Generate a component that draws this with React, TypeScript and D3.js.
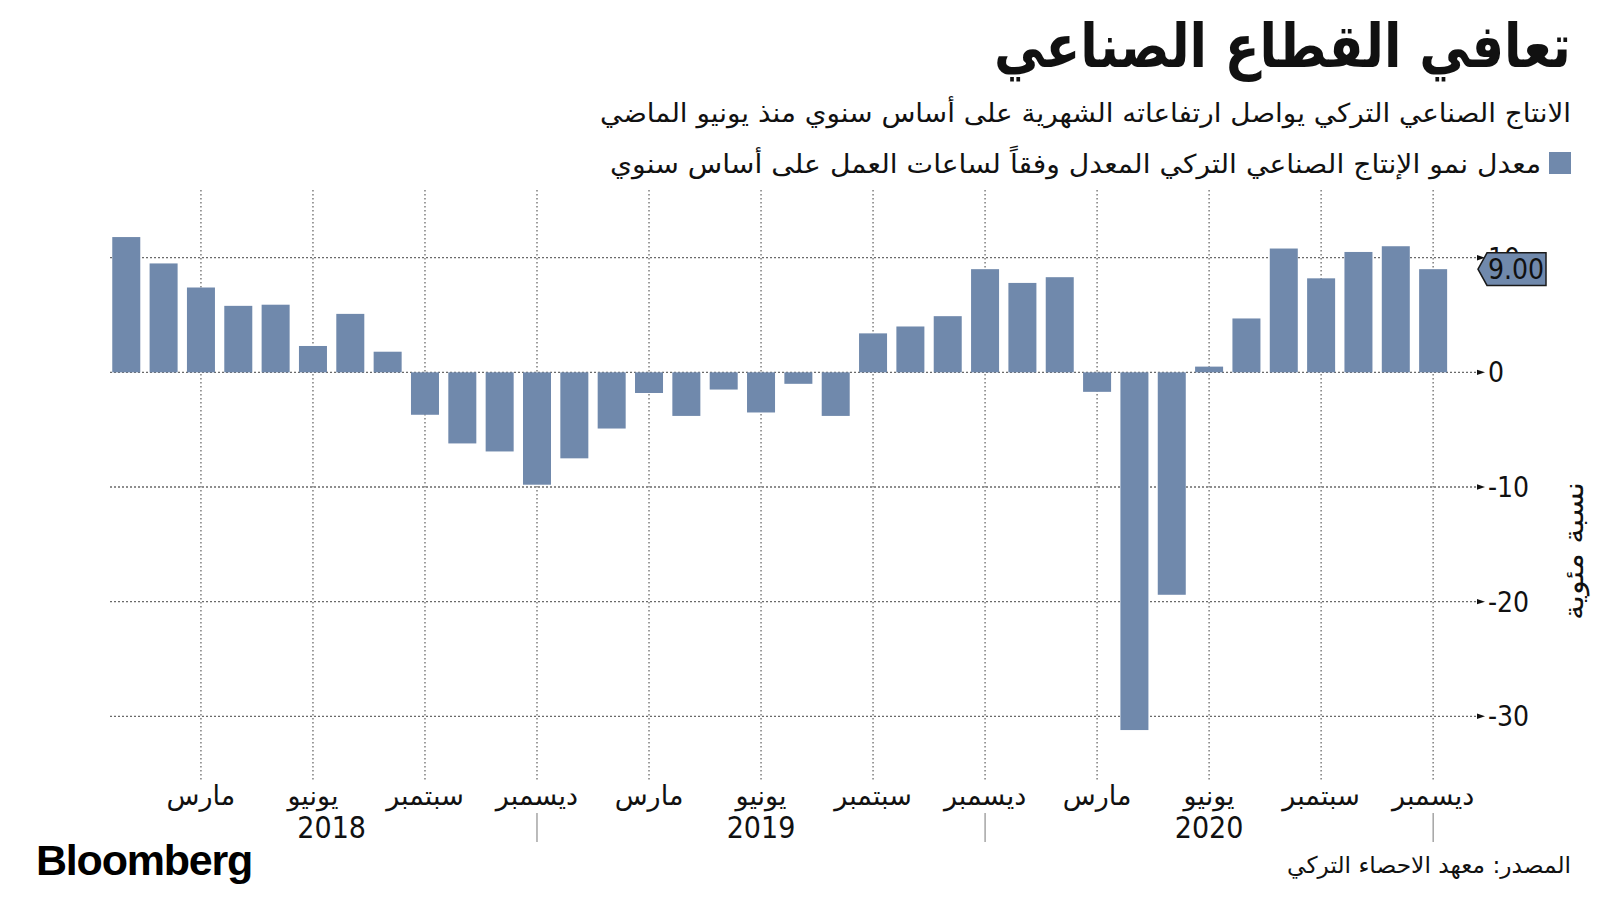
import React from "react";
import * as d3 from "d3";

// ---------- data ----------
const periods = [
  "2018-01","2018-02","2018-03","2018-04","2018-05","2018-06","2018-07","2018-08","2018-09","2018-10","2018-11","2018-12",
  "2019-01","2019-02","2019-03","2019-04","2019-05","2019-06","2019-07","2019-08","2019-09","2019-10","2019-11","2019-12",
  "2020-01","2020-02","2020-03","2020-04","2020-05","2020-06","2020-07","2020-08","2020-09","2020-10","2020-11","2020-12",
];
const growth = [
  11.8, 9.5, 7.4, 5.8, 5.9, 2.3, 5.1, 1.8, -3.7, -6.2, -6.9, -9.8,
  -7.5, -4.9, -1.8, -3.8, -1.5, -3.5, -1.0, -3.8, 3.4, 4.0, 4.9, 9.0,
  7.8, 8.3, -1.7, -31.2, -19.4, 0.5, 4.7, 10.8, 8.2, 10.5, 11.0, 9.0,
];
const quarterMonths = ["03", "06", "09", "12"];
const quarterNames = ["مارس", "يونيو", "سبتمبر", "ديسمبر"];
const years = ["2018", "2019", "2020"];
const yTicks = [10, 0, -10, -20, -30];

const title = "تعافي القطاع الصناعي";
const subtitle = "الانتاج الصناعي التركي يواصل ارتفاعاته الشهرية على أساس سنوي منذ يونيو الماضي";
const legendLabel = "معدل نمو الإنتاج الصناعي التركي المعدل وفقاً لساعات العمل على أساس سنوي";
const yTitle = "نسبة مئوية";
const source = "المصدر: معهد الاحصاء التركي";

// ---------- style ----------
const BAR = "#7089ac";
const AR = "'DejaVu Sans', sans-serif";
const NUM = "'Liberation Sans Narrow', 'DejaVu Sans Condensed', 'Roboto', sans-serif";
const GRID = "#6a6a6a";

export default function App() {
  const W = 1600, H = 900;
  const x = d3.scaleBand<string>().domain(periods).range([107.6, 1451.8]).paddingInner(0.25).paddingOuter(0.125);
  const y = d3.scaleLinear().domain([-30, 10]).range([716.3, 257.7]);
  const cx = (p: string) => (x(p) as number) + x.bandwidth() / 2;
  const gridLeft = 110, gridRight = 1477;
  const vTop = 190, vBottom = 780;

  const quarterPeriods = periods.filter((p) => quarterMonths.includes(p.slice(5)));
  const decPeriods = periods.filter((p) => p.slice(5) === "12");
  const last = growth[growth.length - 1];
  const ty = y(last);

  return (
    <svg width={W} height={H} style={{ position: "absolute", left: 0, top: 0, background: "#fff" }}>
      {/* header */}
      <text x={1571} y={67} textAnchor="end" fontFamily={AR} fontWeight="bold" fontSize={60} textLength={577} lengthAdjust="spacingAndGlyphs" fill="#111">{title}</text>
      <text x={1571} y={122} textAnchor="end" fontFamily={AR} fontSize={26} textLength={971} lengthAdjust="spacingAndGlyphs" fill="#111">{subtitle}</text>
      <rect x={1549} y={152} width={22} height={22} fill={BAR} />
      <text x={1541} y={173} textAnchor="end" fontFamily={AR} fontSize={26} textLength={931} lengthAdjust="spacingAndGlyphs" fill="#111">{legendLabel}</text>

      {/* vertical grid */}
      {quarterPeriods.map((p) => (
        <line key={"v" + p} x1={cx(p)} x2={cx(p)} y1={vTop} y2={vBottom} stroke={GRID} strokeWidth={1.3} strokeDasharray="1.5,2.5" />
      ))}
      {/* horizontal grid */}
      {yTicks.map((t) => (
        <g key={"h" + t}>
          <line x1={gridLeft} x2={gridRight} y1={y(t)} y2={y(t)} stroke={GRID} strokeWidth={1.3} strokeDasharray="2,2" />
          <path d={`M${gridRight},${y(t) - 2.7}L${gridRight + 8},${y(t)}L${gridRight},${y(t) + 2.7}Z`} fill="#111" />
          <text x={1488} y={y(t)} dy="0.36em" fontFamily={NUM} fontSize={28} fill="#111">{d3.format("")(t).replace("−", "-")}</text>
        </g>
      ))}

      {/* bars */}
      {periods.map((p, i) => {
        const v = growth[i];
        return (
          <rect key={p} x={x(p)} width={x.bandwidth()} y={Math.min(y(v), y(0))} height={Math.abs(y(v) - y(0))} fill={BAR} />
        );
      })}

      {/* last value tag */}
      <path d={`M1478,${ty}L1487,${ty - 16.3}L1546,${ty - 16.3}L1546,${ty + 16.3}L1487,${ty + 16.3}Z`} fill={BAR} stroke="#1a1a1a" strokeWidth={1.5} />
      <text x={1516} y={ty} dy="0.36em" textAnchor="middle" fontFamily={NUM} fontSize={28} fill="#111">{d3.format(".2f")(last)}</text>

      {/* y title */}
      <text transform={`translate(1574,551) rotate(-90)`} textAnchor="middle" dy="0.35em" fontFamily={AR} fontSize={27} textLength={138} lengthAdjust="spacingAndGlyphs" fill="#111">{yTitle}</text>

      {/* x axis labels */}
      {quarterPeriods.map((p) => (
        <text key={"l" + p} x={cx(p)} y={805} textAnchor="middle" fontFamily={AR} fontSize={27} fill="#111">
          {quarterNames[quarterMonths.indexOf(p.slice(5))]}
        </text>
      ))}
      {decPeriods.map((p) => (
        <line key={"yt" + p} x1={cx(p)} x2={cx(p)} y1={813} y2={842} stroke="#777" strokeWidth={1} />
      ))}
      {years.map((yr, i) => {
        const end = cx(decPeriods[i]);
        const start = i === 0 ? cx(periods[0]) : cx(decPeriods[i - 1]);
        return (
          <text key={yr} x={(start + end) / 2} y={838} textAnchor="middle" fontFamily={NUM} fontSize={30} fill="#111">{yr}</text>
        );
      })}

      {/* footer */}
      <text x={36} y={875} fontFamily="'Liberation Sans', Arial, sans-serif" fontWeight="bold" fontSize={43} letterSpacing={-1.2} fill="#000">Bloomberg</text>
      <text x={1571} y={873} textAnchor="end" fontFamily={AR} fontSize={23} textLength={284} lengthAdjust="spacingAndGlyphs" fill="#111">{source}</text>
    </svg>
  );
}
